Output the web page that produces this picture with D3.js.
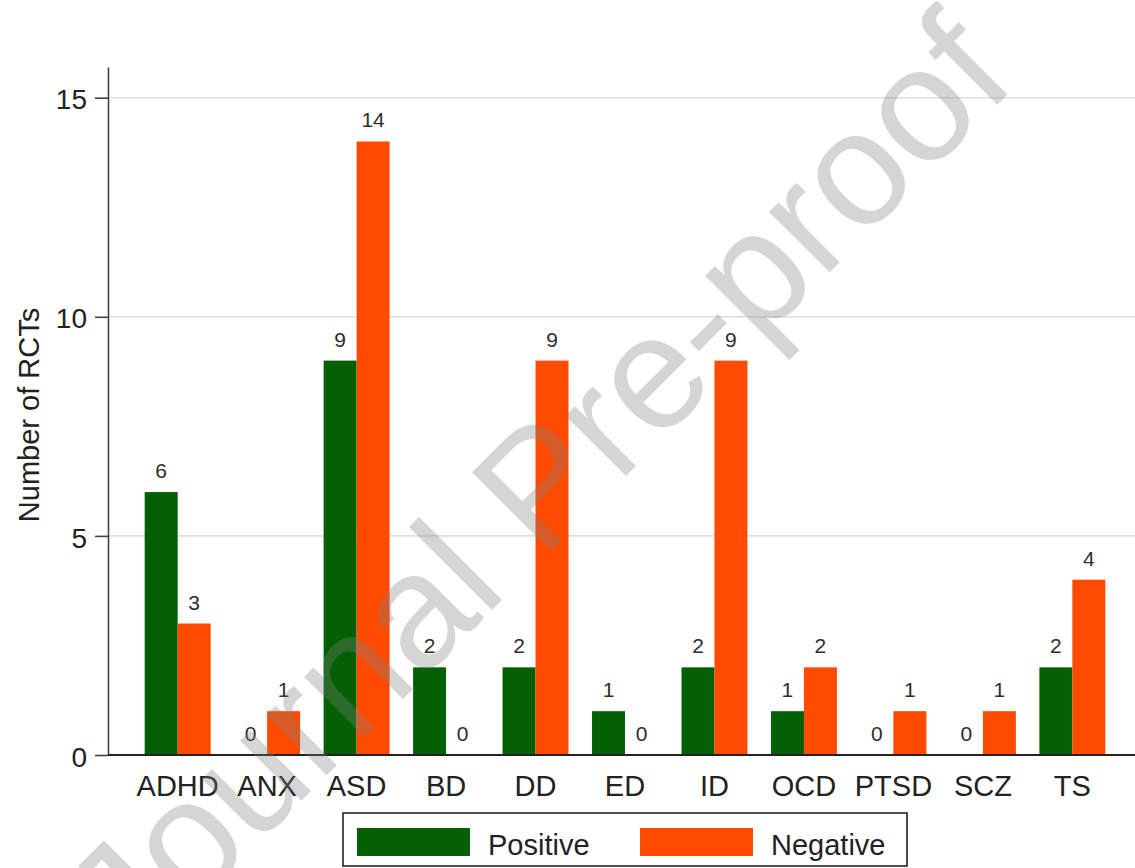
<!DOCTYPE html>
<html>
<head>
<meta charset="utf-8">
<script src="https://cdn.jsdelivr.net/npm/d3@7"></script>
<style>
  html, body { margin: 0; padding: 0; background: #fff; }
  svg { display: block; font-family: "Liberation Sans", Arial, sans-serif; }
</style>
</head>
<body>
<script>
// ---- data ----
const categories = ["ADHD", "ANX", "ASD", "BD", "DD", "ED", "ID", "OCD", "PTSD", "SCZ", "TS"];
const positive = [6, 0, 9, 2, 2, 1, 2, 1, 0, 0, 2];
const negative = [3, 1, 14, 0, 9, 0, 9, 2, 1, 1, 4];
const seriesNames = ["Positive", "Negative"];
const seriesColors = ["#046004", "#ff4a00"];
const yTicks = [0, 5, 10, 15];
const yTitle = "Number of RCTs";
const watermark = "Journal Pre-proof";

const W = 1135, H = 868;
const svg = d3.select("body").append("svg").attr("width", W).attr("height", H);

const rows = categories.map((c, i) => ({ cat: c, values: [positive[i], negative[i]] }));

const x = d3.scaleBand().domain(categories).range([108, 1142]).paddingInner(0.263).paddingOuter(0.41);
const xs = d3.scaleBand().domain(seriesNames).range([0, x.bandwidth()]).padding(0);
const y = d3.scaleLinear().domain([0, 15.7]).range([755, 67]);

// gridlines
svg.append("g").selectAll("line").data(yTicks.filter(d => d > 0)).join("line")
  .attr("x1", 108).attr("x2", W)
  .attr("y1", d => y(d)).attr("y2", d => y(d))
  .attr("stroke", "#dedede").attr("stroke-width", 1.6);

// bars
const groups = svg.append("g").selectAll("g").data(rows).join("g")
  .attr("transform", d => `translate(${x(d.cat)},0)`);
groups.selectAll("rect").data(d => d.values.map((v, i) => ({ v, s: seriesNames[i], i }))).join("rect")
  .attr("x", d => xs(d.s)).attr("width", xs.bandwidth())
  .attr("y", d => y(d.v)).attr("height", d => y(0) - y(d.v))
  .attr("fill", d => seriesColors[d.i]);
groups.selectAll("text").data(d => d.values.map((v, i) => ({ v, s: seriesNames[i], i }))).join("text")
  .attr("x", d => xs(d.s) + xs.bandwidth() / 2)
  .attr("y", d => y(d.v) - 14)
  .attr("text-anchor", "middle")
  .attr("font-size", 21).attr("fill", "#2e2e2e")
  .text(d => d.v);

// y axis
const yAxis = svg.append("g").attr("transform", "translate(108,0)")
  .call(d3.axisLeft(y).tickValues(yTicks).tickSize(13).tickSizeOuter(0).tickPadding(8));
yAxis.select(".domain").attr("stroke", "#444").attr("stroke-width", 1.6);
yAxis.selectAll(".tick line").attr("stroke", "#444").attr("stroke-width", 1.6);
yAxis.selectAll(".tick text").attr("font-size", 28).attr("fill", "#222")
  .attr("font-family", "Liberation Sans, Arial, sans-serif").attr("dy", "0.4em");

// x axis
const xAxis = svg.append("g").attr("transform", "translate(0,755)")
  .call(d3.axisBottom(x).tickSize(0).tickPadding(20));
xAxis.select(".domain").remove();
xAxis.selectAll(".tick text").attr("font-size", 29).attr("fill", "#222")
  .attr("font-family", "Liberation Sans, Arial, sans-serif");
svg.append("line").attr("x1", 108).attr("x2", W).attr("y1", y(0)).attr("y2", y(0))
  .attr("stroke", "#222").attr("stroke-width", 2);

// y title
svg.append("text").attr("transform", "translate(39,415) rotate(-90)")
  .attr("text-anchor", "middle").attr("font-size", 29).attr("fill", "#222")
  .text(yTitle);

// legend
const lg = svg.append("g");
lg.append("rect").attr("x", 343).attr("y", 813).attr("width", 564).attr("height", 53)
  .attr("fill", "#fff").attr("stroke", "#222").attr("stroke-width", 1.6);
const legendItems = [
  { name: seriesNames[0], color: seriesColors[0], sx: 357, tx: 488 },
  { name: seriesNames[1], color: seriesColors[1], sx: 640, tx: 771 }
];
lg.selectAll("rect.sw").data(legendItems).join("rect").attr("class", "sw")
  .attr("x", d => d.sx).attr("y", 828).attr("width", 113).attr("height", 28)
  .attr("fill", d => d.color);
lg.selectAll("text").data(legendItems).join("text")
  .attr("x", d => d.tx).attr("y", 855).attr("font-size", 29).attr("fill", "#222")
  .text(d => d.name);

// watermark
svg.append("text").attr("transform", "translate(134,968) rotate(-45)")
  .attr("font-size", 162).attr("fill", "#7f7f7f").attr("fill-opacity", 0.33)
  .attr("font-family", "Liberation Sans, Arial, sans-serif")
  .text(watermark);
</script>
</body>
</html>
